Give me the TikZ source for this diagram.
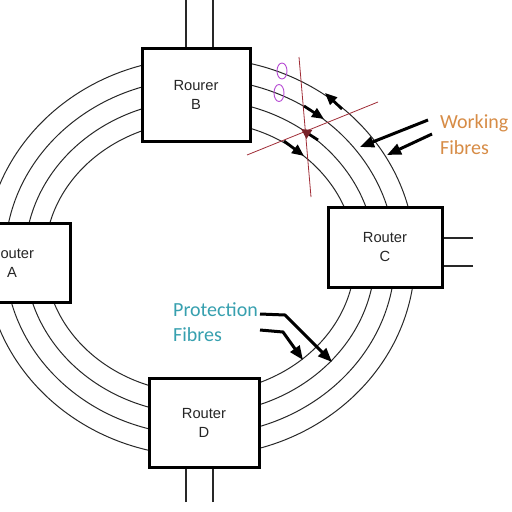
\documentclass[tikz,border=0pt]{standalone}
\usepackage{fontspec}
\setmainfont{Liberation Sans}
\newfontfamily\calib{Carlito}
\usetikzlibrary{arrows.meta}
\definecolor{fibre}{RGB}{40,40,40}
\definecolor{maroonline}{RGB}{160,45,55}
\definecolor{violetmark}{RGB}{180,70,210}
\definecolor{tealtext}{RGB}{55,160,175}
\definecolor{orangetext}{RGB}{215,140,70}
\tikzset{
  fibreline/.style={draw=fibre, line width=1pt},
  routerbox/.style={draw=black, fill=white, line width=3pt, rectangle, inner sep=0pt,
     align=center, font=\fontsize{14.7}{19}\selectfont, text=black!85},
  portline/.style={draw=fibre, line width=1.3pt},
  redline/.style={draw=maroonline, line width=0.8pt},
  bigarrow/.style={draw=black, line width=3pt, -{Triangle[length=14pt,width=11pt]}},
  smallarrow/.style={draw=black, line width=2.8pt, -{Triangle[length=12pt,width=10pt]}},
  lbl/.style={anchor=west, inner sep=0pt, font=\calib\fontsize{20}{24}\selectfont},
}
\begin{document}
\begin{tikzpicture}[x=1pt,y=-1pt]
\useasboundingbox (0,0) rectangle (512,512);
\clip (0,0) rectangle (512,512);
\fill[white] (0,0) rectangle (512,512);
% fibre rings
\coordinate (ctr) at (200,257);
\draw[fibreline] (ctr) ellipse [x radius=155pt, y radius=136pt];
\draw[fibreline] (ctr) ellipse [x radius=175pt, y radius=157pt];
\draw[fibreline] (ctr) ellipse [x radius=195pt, y radius=178pt];
\draw[fibreline] (ctr) ellipse [x radius=215pt, y radius=199pt];
% routers
\node[routerbox, minimum width=108pt, minimum height=93pt] (B) at (196,94.5) {Rourer\\B};
\node[routerbox, minimum width=116pt, minimum height=79pt] (A) at (12,262.5) {Router\\A};
\node[routerbox, minimum width=114pt, minimum height=80pt] (C) at (385,247) {Router\\C};
\node[routerbox, minimum width=110pt, minimum height=89pt] (D) at (204,422.5) {Router\\D};
% port lines
\coordinate (b1) at (186,0); \coordinate (b2) at (213,0);
\coordinate (d1) at (186,502); \coordinate (d2) at (213,502);
\coordinate (c1) at (473,238); \coordinate (c2) at (473,266);
\draw[portline] (b1) -- (b1 |- B.north);
\draw[portline] (b2) -- (b2 |- B.north);
\draw[portline] (d1) -- (d1 |- D.south);
\draw[portline] (d2) -- (d2 |- D.south);
\draw[portline] (c1) -- (c1 -| C.east);
\draw[portline] (c2) -- (c2 -| C.east);
% violet marks
\draw[violetmark, line width=0.9pt] (282,71) ellipse [x radius=5pt, y radius=8pt];
\draw[violetmark, line width=0.9pt] (279,93) ellipse [x radius=5pt, y radius=8.5pt];
% red cut lines
\coordinate (r1a) at (299,57); \coordinate (r1b) at (311,197);
\coordinate (r2a) at (247,155); \coordinate (r2b) at (378,102);
\draw[redline] (r1a) -- (r1b);
\draw[redline] (r2a) -- (r2b);
% small arrows at cut
\coordinate (s1a) at (304,106); \coordinate (s1b) at (324,119);
\coordinate (s2a) at (342,109); \coordinate (s2b) at (325,93);
\coordinate (s3a) at (284,141); \coordinate (s3b) at (304,156);
\coordinate (s4a) at (318,140); \coordinate (s4b) at (301,129);
\draw[smallarrow] (s1a) -- (s1b);
\draw[smallarrow] (s2a) -- (s2b);
\draw[smallarrow] (s3a) -- (s3b);
\draw[draw=black, line width=2.8pt, -{Triangle[length=10pt,width=10pt,color=maroonline!75!black]}] (s4a) -- (s4b);
% working fibres
\node[lbl, text=orangetext] (wk) at (440,123) {Working};
\node[lbl, text=orangetext] (wf) at (440,148) {Fibres};
\coordinate (w1a) at (428,120); \coordinate (w1b) at (360,147);
\coordinate (w2a) at (432,134); \coordinate (w2b) at (387,155);
\draw[bigarrow] (w1a) -- (w1b);
\draw[bigarrow] (w2a) -- (w2b);
% protection fibres
\node[lbl, text=tealtext] (pp) at (173,310) {Protection};
\node[lbl, text=tealtext] (pf) at (173,335) {Fibres};
\coordinate (p1a) at (260,314); \coordinate (p1m) at (285,315); \coordinate (p1b) at (332,362);
\coordinate (p2a) at (260,330); \coordinate (p2m) at (283,332); \coordinate (p2b) at (303,360);
\draw[bigarrow] (p1a) -- (p1m) -- (p1b);
\draw[bigarrow] (p2a) -- (p2m) -- (p2b);
\end{tikzpicture}
\end{document}
